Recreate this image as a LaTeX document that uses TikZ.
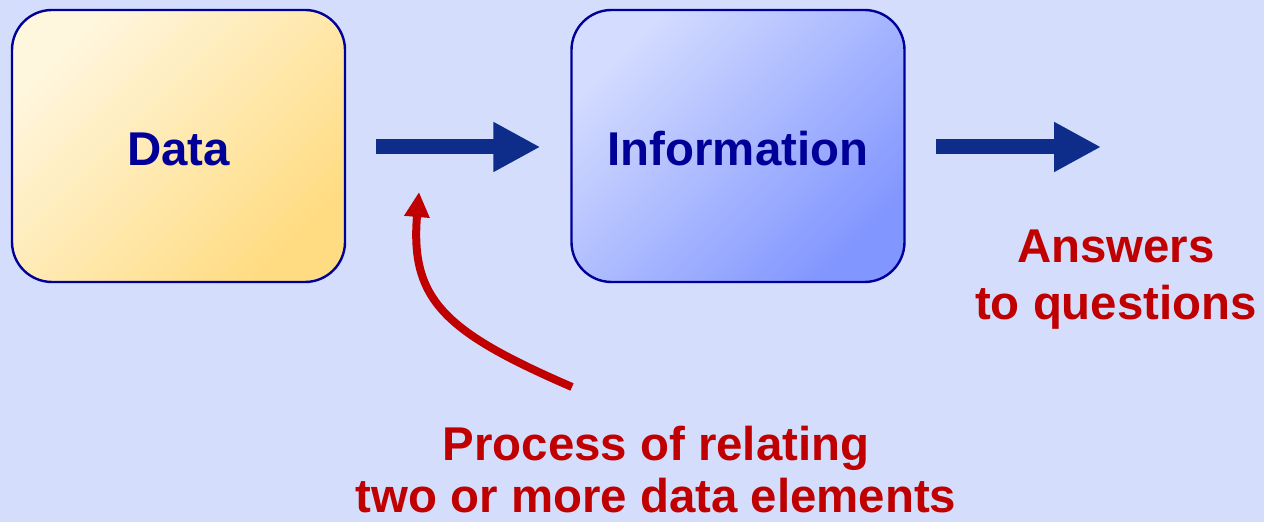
\documentclass[tikz,border=0pt]{standalone}
\usepackage{fontspec}
\setmainfont{Liberation Sans}
\usetikzlibrary{arrows.meta}
\definecolor{bg}{RGB}{212,222,252}
\definecolor{navy}{RGB}{0,0,153}
\definecolor{arrowblue}{RGB}{14,44,138}
\definecolor{darkred}{RGB}{192,0,0}
\definecolor{dataA}{RGB}{255,246,222}
\definecolor{dataB}{RGB}{255,220,130}
\definecolor{infoA}{RGB}{212,220,255}
\definecolor{infoB}{RGB}{130,150,255}
\tikzset{
  box/.style={draw=navy, line width=1.2pt, rounded corners=20pt,
    minimum width=166.5pt, minimum height=136pt, text height=19.3pt,
    font=\fontsize{23.7}{28.5}\selectfont\bfseries, text=navy},
  bigarrow/.style={arrowblue, line width=7.5pt,
    -{Triangle[length=23.5pt,width=23.5pt]}},
  redarrow/.style={darkred, line width=4pt,
    -{Triangle[length=12.5pt,width=12pt]}},
  redtext/.style={text=darkred, align=center,
    font=\fontsize{23.7}{28.5}\selectfont\bfseries}
}
\begin{document}
\begin{tikzpicture}[x=0.5pt,y=-0.5pt]
\fill[bg] (0,0) rectangle (1264,522);
\useasboundingbox (0,0) rectangle (1264,522);
\node[box, top color=dataA, bottom color=dataB, shading angle=45] (data) at (178.5,146) {Data};
\node[box, top color=infoA, bottom color=infoB, shading angle=45] (info) at (738,146) {Information};
\coordinate (out) at (1101,147);
\draw[bigarrow, shorten <=15pt, shorten >=15pt] (data.east) ++(0,1) -- (info.west |- 0,147);
\draw[bigarrow, shorten <=15pt] (info.east |- out) -- (out);
\node[redtext] (ans) at (1116,280) {Answers\\to questions};
\node[redtext, font=\fontsize{23.7}{26}\selectfont\bfseries] (proc) at (656,469.5) {Process of relating\\two or more data elements};
\coordinate (rs) at (572,387);
\coordinate (re) at (419,192);
\draw[redarrow] (rs) .. controls (445,332) and (410,300) .. (re);
\end{tikzpicture}
\end{document}
